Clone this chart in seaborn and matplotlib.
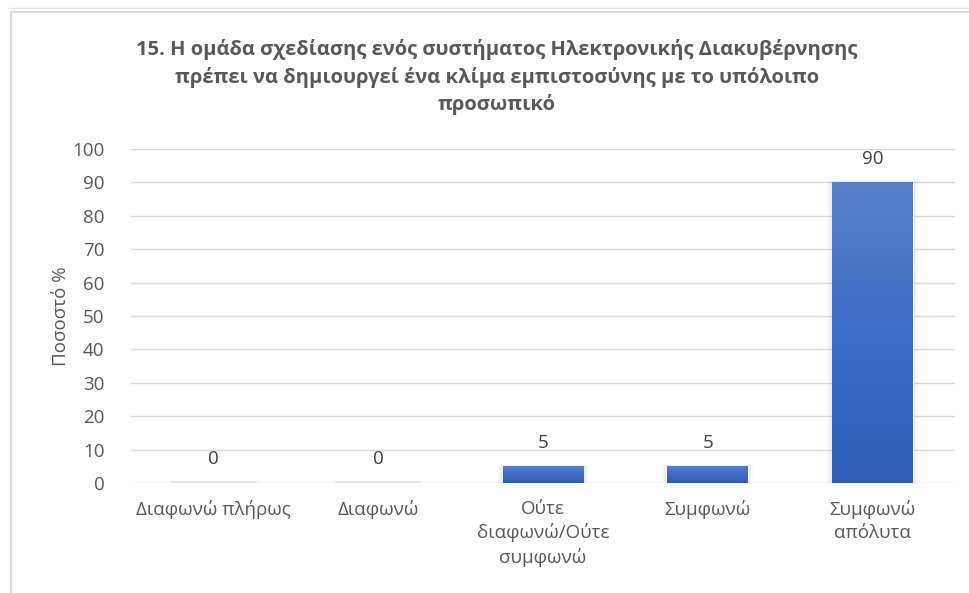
import numpy as np
import pandas as pd
import matplotlib
matplotlib.use("Agg")
import matplotlib.pyplot as plt
from matplotlib.lines import Line2D
from matplotlib.colors import LinearSegmentedColormap
import seaborn as sns

# Survey answers and their percentages
categories = ["Διαφωνώ πλήρως", "Διαφωνώ", "Ούτε\nδιαφωνώ/Ούτε\nσυμφωνώ", "Συμφωνώ", "Συμφωνώ\nαπόλυτα"]
percentages = [0, 0, 5, 5, 90]
y_ticks = [0, 10, 20, 30, 40, 50, 60, 70, 80, 90, 100]

title = ("15. Η ομάδα σχεδίασης ενός συστήματος Ηλεκτρονικής Διακυβέρνησης\n"
         "πρέπει να δημιουργεί ένα κλίμα εμπιστοσύνης με το υπόλοιπο\n"
         "προσωπικό")
y_label = "Ποσοστό %"

sns.set_theme(style="white")
plt.rcParams["font.family"] = ["Open Sans", "DejaVu Sans"]

df = pd.DataFrame({"cat": categories, "pct": percentages})

fig = plt.figure(figsize=(9.70, 5.93), dpi=100)
fig.patch.set_facecolor("white")
ax = fig.add_axes([0.135, 0.1855, 0.8495, 0.5632])

sns.barplot(data=df, x="cat", y="pct", ax=ax, width=0.49,
            color="#4472c4", saturation=1, zorder=3)

ax.set_ylim(0, 100)
ax.set_xlim(-0.5, len(categories) - 0.5)
ax.set_yticks(y_ticks)
ax.yaxis.grid(True, color="#d9d9d9", linewidth=1.0, zorder=0)
ax.set_axisbelow(True)
for s in ax.spines.values():
    s.set_visible(False)
ax.tick_params(axis="y", length=0, colors="#595959", labelsize=13.5, pad=19)
ax.tick_params(axis="x", length=0, colors="#595959", labelsize=13.5, pad=12)
for lbl in ax.get_xticklabels():
    lbl.set_linespacing(1.38)
    lbl.set_verticalalignment("top")
ax.set_xlabel("")
ax.set_ylabel(y_label, color="#595959", fontsize=13.5, labelpad=1.5)

# Vertical gradient fill on each bar, plus a soft halo
grad = LinearSegmentedColormap.from_list("bar", ["#2f5eb7", "#3d6cc6", "#5a80c8"])
gimg = np.linspace(0, 1, 256).reshape(-1, 1)
for patch in list(ax.patches):
    x0, y0 = patch.get_x(), patch.get_y()
    w, h = patch.get_width(), patch.get_height()
    for k, a in zip([0.06, 0.04, 0.02], [0.04, 0.06, 0.08]):
        ax.add_patch(plt.Rectangle((x0 - k / 2, y0 - 0.3), w + k, h + 0.8,
                                   facecolor="#7f7f7f", alpha=a, edgecolor="none", zorder=2))
    if h > 0:
        im = ax.imshow(gimg, cmap=grad, aspect="auto", origin="lower",
                       extent=(x0, x0 + w, y0, y0 + h), zorder=4)
        im.set_clip_path(patch)

ax.set_ylim(0, 100)
ax.set_xlim(-0.5, len(categories) - 0.5)

for i, v in enumerate(percentages):
    ax.annotate(f"{v}", (i, v), xytext=(0, 17), textcoords="offset points",
                ha="center", va="center", color="#404040", fontsize=13.5)

fig.text(0.512, 0.9345, title, ha="center", va="top", fontsize=14.5,
         fontweight="bold", color="#595959", linespacing=1.42)

# Chart frame edges
fig.add_artist(Line2D([11 / 970, 11 / 970], [0, 1 - 12 / 593], color="#d9d9d9", lw=1.5))
fig.add_artist(Line2D([11 / 970, 1], [1 - 12 / 593, 1 - 12 / 593], color="#d9d9d9", lw=1.5))
fig.add_artist(Line2D([9 / 970, 1], [1 - 8 / 593, 1 - 8 / 593], color="#e3e3e3", lw=1.0))

fig.savefig("out.png", dpi=100, facecolor="white")
